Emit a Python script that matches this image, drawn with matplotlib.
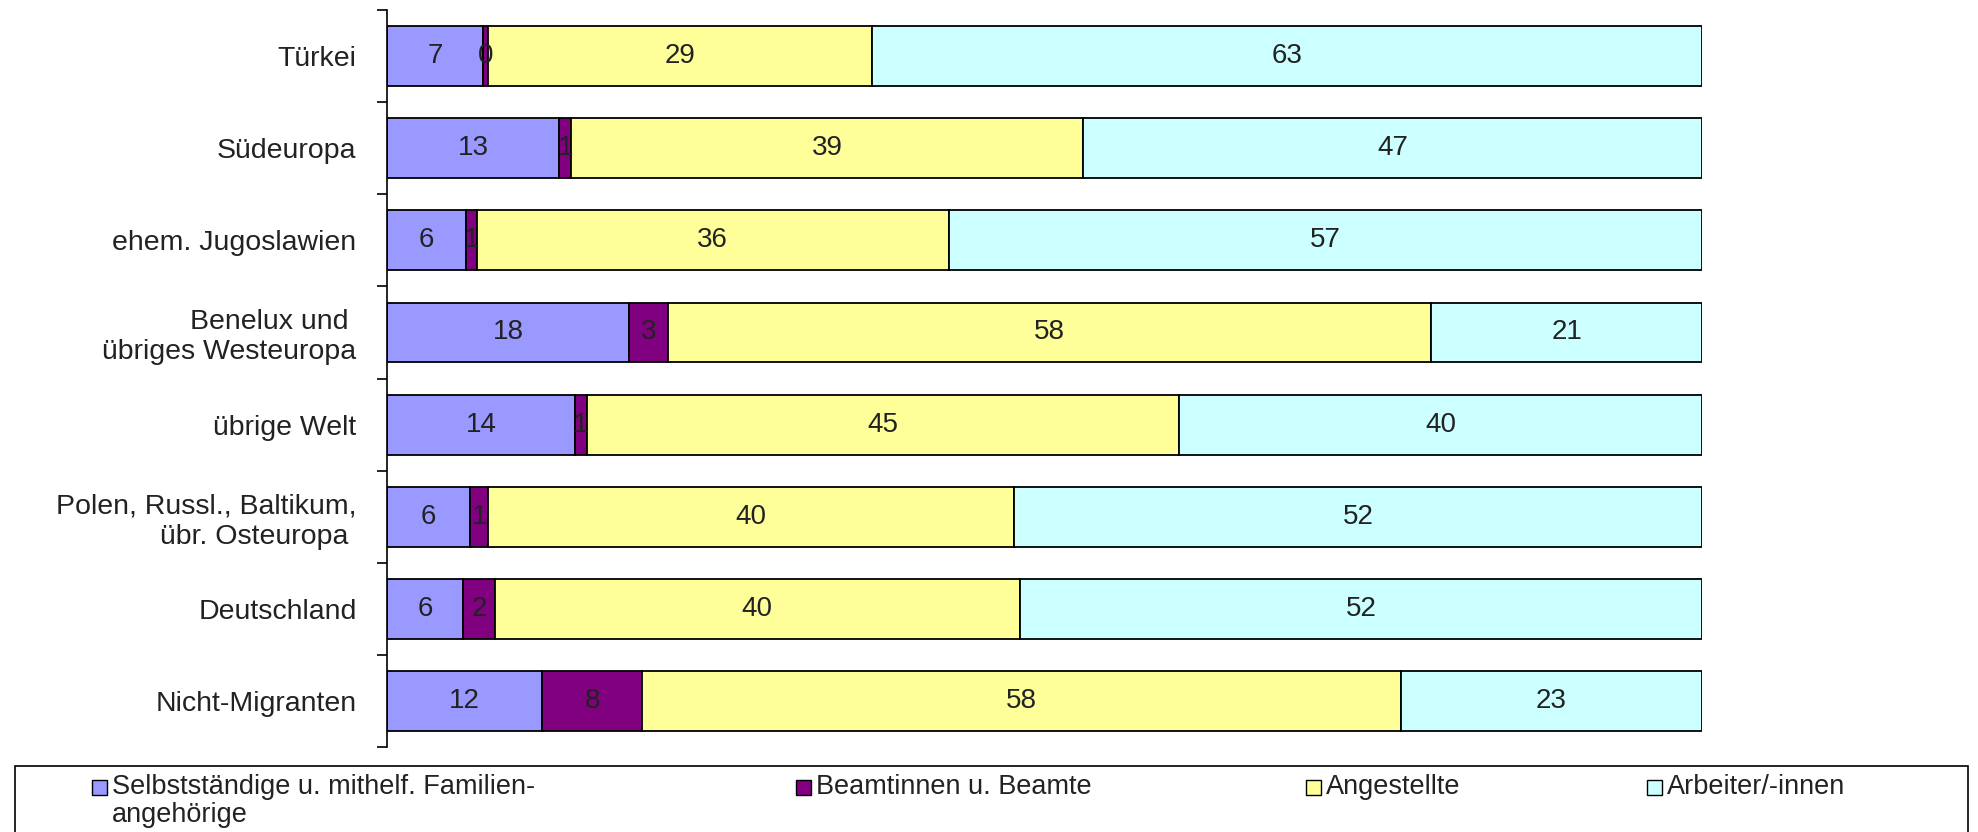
import matplotlib.pyplot as plt
from matplotlib.patches import Rectangle
import numpy as np

plt.rcParams['font.family'] = ['Liberation Sans', 'DejaVu Sans']

# Categories, top to bottom as in the chart
regions = ['Türkei', 'Südeuropa', 'ehem. Jugoslawien', 'Benelux und \nübriges Westeuropa',
           'übrige Welt', 'Polen, Russl., Baltikum,\nübr. Osteuropa ', 'Deutschland', 'Nicht-Migranten']

# Shares in percent
selbststaendige = [7.3, 13.1, 6.0, 18.4, 14.3, 6.3, 5.8, 11.8]
beamte = [0.4, 0.9, 0.8, 3.0, 0.9, 1.4, 2.4, 7.6]
angestellte = [29.2, 38.9, 35.9, 58.0, 45.0, 40.0, 39.9, 57.7]
arbeiter = [63.1, 47.1, 57.3, 20.6, 39.8, 52.3, 51.9, 22.9]

series_names = ['Selbstständige u. mithelf. Familien-\nangehörige', 'Beamtinnen u. Beamte',
                'Angestellte', 'Arbeiter/-innen']
colors = ['#9999FF', '#800080', '#FFFF99', '#CCFFFF']

W, H = 1978, 832
fig = plt.figure(figsize=(W / 100, H / 100), dpi=100)
ax = fig.add_axes([0.1957, 0.102, 0.6648, 0.886])

y = np.arange(len(regions))
left = np.zeros(len(regions))
for vals, name, col in zip([selbststaendige, beamte, angestellte, arbeiter], series_names, colors):
    vals = np.array(vals)
    bars = ax.barh(y, vals, left=left, height=0.65, color=col, edgecolor='black',
                   linewidth=1.3, label=name)
    ax.bar_label(bars, labels=['%d' % round(v) for v in vals], label_type='center',
                 fontsize=20, color='#222222')
    left += vals

ax.set_xlim(0, 100)
ax.set_ylim(-0.5, len(regions) - 0.5)
ax.invert_yaxis()

ax.set_yticks(y)
ax.set_yticklabels(regions, fontsize=20.5, color='#222222')
ax.set_yticks(np.arange(-0.5, len(regions)), minor=True)
ax.tick_params(axis='y', which='major', length=0, pad=22)
ax.tick_params(axis='y', which='minor', length=7.5, width=1.2, direction='out')
ax.xaxis.set_visible(False)
for s in ['top', 'right', 'bottom']:
    ax.spines[s].set_visible(False)
ax.spines['left'].set_linewidth(1.2)

# legend box in the style of the original (frame runs off the bottom edge)
fig.add_artist(Rectangle((15 / W, -0.05), 1953 / W, 0.05 + (H - 766) / H,
                         transform=fig.transFigure, facecolor='white',
                         edgecolor='black', linewidth=1.2))
marker_x = [92, 796, 1306, 1647]
for mx, name, col in zip(marker_x, series_names, colors):
    fig.add_artist(Rectangle((mx / W, (H - 795) / H), 15 / W, 15 / H,
                             transform=fig.transFigure, facecolor=col,
                             edgecolor='black', linewidth=1.0))
    fig.text((mx + 20) / W, (H - 774) / H, name, fontsize=19.5, color='#222222',
             ha='left', va='top', linespacing=1.1)

fig.savefig('out.png', dpi=100)
